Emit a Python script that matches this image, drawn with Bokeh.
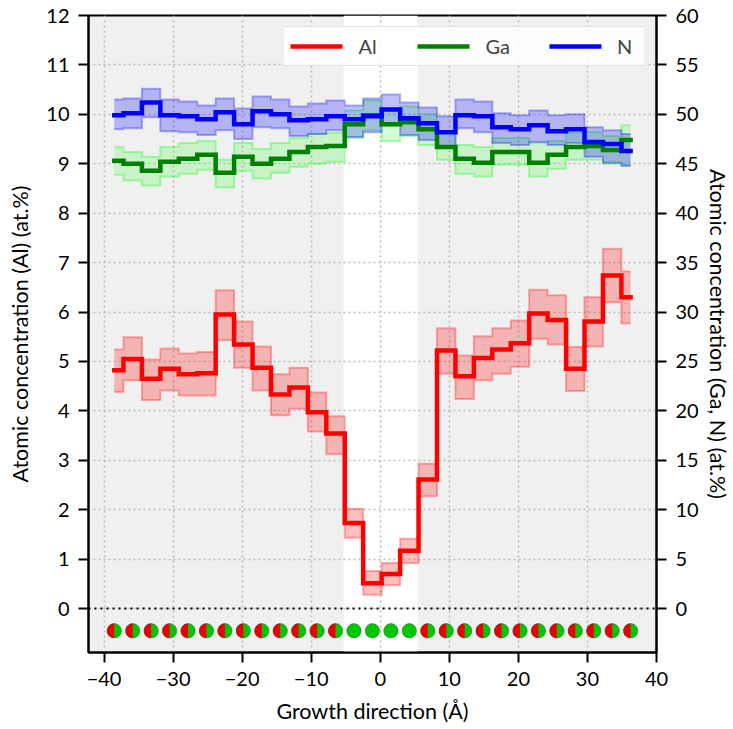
import numpy as np
from bokeh.plotting import figure
from bokeh.models import (Range1d, LinearAxis, FixedTicker, Span, BoxAnnotation,
                          Legend, LegendItem)
from bokeh.embed import file_html
from bokeh.resources import INLINE

# ---------------- data ----------------
position = [-38.52, -35.85, -33.18, -30.51, -27.84, -25.17, -22.50, -19.83, -17.16, -14.49,
            -11.82, -9.15, -6.48, -3.81, -1.14, 1.54, 4.21, 6.88, 9.55, 12.22,
            14.89, 17.56, 20.23, 22.90, 25.57, 28.24, 30.91, 33.58, 36.25]

al = [4.82, 5.05, 4.65, 4.85, 4.74, 4.76, 5.95, 5.34, 4.87, 4.33,
      4.47, 3.97, 3.54, 1.73, 0.51, 0.70, 1.17, 2.61, 5.22, 4.70,
      5.07, 5.24, 5.37, 5.97, 5.84, 4.85, 5.81, 6.74, 6.30]
al_hi = [5.24, 5.49, 5.04, 5.26, 5.16, 5.19, 6.44, 5.81, 5.30, 4.74,
         4.87, 4.37, 3.89, 2.02, 0.76, 0.92, 1.41, 2.93, 5.67, 5.12,
         5.51, 5.67, 5.83, 6.45, 6.34, 5.29, 6.30, 7.28, 6.82]
al_lo = [4.38, 4.62, 4.22, 4.41, 4.31, 4.31, 5.43, 4.87, 4.41, 3.91,
         4.04, 3.58, 3.12, 1.43, 0.28, 0.47, 0.92, 2.27, 4.75, 4.24,
         4.62, 4.75, 4.89, 5.46, 5.34, 4.40, 5.30, 6.20, 5.77]

ga = [45.3, 45.0, 44.3, 45.2, 45.5, 45.9, 44.1, 45.7, 45.0, 45.5,
      46.2, 46.7, 46.8, 49.0, 49.9, 49.0, 49.2, 48.5, 46.7, 45.5,
      45.1, 46.2, 46.2, 45.1, 45.9, 46.7, 46.8, 46.4, 47.4]
ga_hi = [46.7, 46.2, 45.7, 46.7, 47.1, 47.3, 45.4, 47.1, 46.5, 47.1,
         47.6, 48.0, 48.1, 50.4, 51.4, 50.5, 50.8, 50.0, 48.1, 46.9,
         46.7, 47.6, 47.6, 47.1, 47.3, 48.1, 48.2, 47.8, 48.9]
ga_lo = [43.9, 43.3, 42.8, 43.7, 44.0, 44.4, 42.6, 44.3, 43.5, 44.1,
         44.7, 45.0, 45.2, 47.6, 48.4, 47.3, 47.8, 46.9, 45.4, 44.0,
         43.7, 44.9, 44.9, 43.7, 44.5, 45.4, 45.4, 45.0, 44.8]

n = [49.9, 50.1, 51.2, 49.9, 49.8, 49.5, 50.2, 49.0, 50.3, 50.0,
     49.4, 49.5, 49.8, 49.5, 49.8, 50.5, 49.6, 49.1, 48.2, 49.9,
     49.8, 48.7, 48.5, 48.9, 48.3, 48.5, 47.2, 47.0, 46.3]
n_hi = [51.5, 51.6, 52.6, 51.5, 51.3, 50.9, 51.6, 50.6, 51.8, 51.5,
        50.8, 51.1, 51.4, 50.9, 51.6, 52.0, 51.2, 50.7, 49.8, 51.5,
        51.3, 50.1, 49.9, 50.4, 49.9, 50.0, 48.7, 48.4, 48.0]
n_lo = [48.5, 48.6, 49.7, 48.3, 48.2, 47.9, 48.4, 47.5, 48.7, 48.6,
        47.8, 48.0, 48.4, 47.7, 48.2, 48.9, 47.9, 47.4, 46.7, 48.6,
        48.2, 47.1, 46.9, 47.2, 46.9, 47.1, 45.7, 45.1, 44.8]

# layer type for the markers row
site = ["AlGaN"] * 13 + ["GaN"] * 4 + ["AlGaN"] * 12

# interface region (unshaded)
region_left, region_right = -5.3, 5.4

x_ticks = [-40, -30, -20, -10, 0, 10, 20, 30, 40]
y_ticks = [0, 1, 2, 3, 4, 5, 6, 7, 8, 9, 10, 11, 12]
y2_ticks = [0, 5, 10, 15, 20, 25, 30, 35, 40, 45, 50, 55, 60]

FONT = "Lato"
FS = "20px"
FS_LABEL = "21.5px"

# ---------------- figure ----------------
p = figure(width=733, height=729, x_range=Range1d(-42.25, 40.0),
           y_range=Range1d(-0.89, 12.0), output_backend="svg",
           toolbar_location=None, min_border_left=88, min_border_right=75,
           min_border_top=15, min_border_bottom=77)
p.extra_y_ranges = {"right": Range1d(-0.89 * 5, 60.0)}

p.background_fill_color = "#f0f0f0"
p.border_fill_color = "white"
p.outline_line_color = "black"
p.outline_line_width = 2

white_band = BoxAnnotation(left=region_left, right=region_right, fill_color="white",
                           fill_alpha=1.0, line_color=None, level="image")
p.add_layout(white_band)

# grid
p.xgrid.ticker = FixedTicker(ticks=x_ticks)
p.ygrid.ticker = FixedTicker(ticks=y_ticks)
for g in (p.xgrid, p.ygrid):
    g.grid_line_color = "#bdbdbd"
    g.grid_line_dash = "2 3"
    g.grid_line_width = 1.6

# axes
def style_axis(ax):
    ax.axis_line_width = 2
    ax.axis_line_color = "black"
    ax.major_tick_line_width = 2
    ax.major_tick_out = 10
    ax.major_tick_in = 0
    ax.minor_tick_line_color = None
    ax.major_label_text_font = FONT
    ax.major_label_text_font_size = FS
    ax.major_label_text_color = "black"
    ax.axis_label_text_font = FONT
    ax.axis_label_text_font_size = FS_LABEL
    ax.axis_label_text_font_style = "normal"
    ax.axis_label_text_color = "black"
    ax.major_label_standoff = 9

xa = p.xaxis[0]
style_axis(xa)
xa.ticker = FixedTicker(ticks=x_ticks)
xa.major_label_overrides = {t: (("\u2212" + str(abs(t))) if t < 0 else str(t)) for t in x_ticks}
xa.axis_label = "Growth direction (\u00c5)"
xa.axis_label_standoff = 9

ya = p.yaxis[0]
style_axis(ya)
ya.ticker = FixedTicker(ticks=y_ticks)
ya.axis_label = "Atomic concentration (Al) (at.%)"
ya.axis_label_standoff = 10

ya2 = LinearAxis(y_range_name="right")
style_axis(ya2)
ya2.ticker = FixedTicker(ticks=y2_ticks)
ya2.axis_label = "Atomic concentration (Ga, N) (at.%)"
ya2.axis_label_standoff = 3
ya2.major_label_standoff = 9
p.add_layout(ya2, "right")

# zero line
p.add_layout(Span(location=0, dimension="width", line_color="black",
                  line_dash="2 4", line_width=2))

# uncertainty bands
def band(lo, hi, color, fa, la, yr="default"):
    p.varea_step(x=position, y1=lo, y2=hi, step_mode="center", fill_color=color,
                 fill_alpha=fa, y_range_name=yr)
    for edge in (lo, hi):
        p.step(x=position, y=edge, mode="center", line_color=color, line_alpha=la,
               line_width=2, line_join="miter", y_range_name=yr)

band(al_lo, al_hi, "red", 0.25, 0.3)
band(ga_lo, ga_hi, "#00ff00", 0.16, 0.32, "right")
band(n_lo, n_hi, "blue", 0.25, 0.3, "right")

r_al = p.step(x=position, y=al, mode="center", line_color="red", line_width=4.5,
              line_join="miter", line_cap="square")
r_ga = p.step(x=position, y=ga, mode="center", line_color="green", line_width=4.5,
              line_join="miter", line_cap="square", y_range_name="right")
r_n = p.step(x=position, y=n, mode="center", line_color="blue", line_width=4.5,
             line_join="miter", line_cap="square", y_range_name="right")

# marker row
mark_y = [-0.45] * len(position)
mixed_x = [x for x, s in zip(position, site) if s == "AlGaN"]
p.scatter(x=position, y=mark_y, size=14.5, fill_color="#00c800", line_color=None)
p.wedge(x=mixed_x, y=[-0.45] * len(mixed_x), radius=7.25, radius_units="screen",
        start_angle=np.pi / 2, end_angle=3 * np.pi / 2, fill_color="#ee0000",
        line_color=None)
p.scatter(x=position, y=mark_y, size=14.5, fill_color=None, line_color="#303030",
          line_alpha=0.45, line_width=0.8)

legend = Legend(items=[LegendItem(label="Al", renderers=[r_al]),
                       LegendItem(label="Ga", renderers=[r_ga]),
                       LegendItem(label="N", renderers=[r_n])],
                orientation="horizontal", location="top_right", margin=11,
                padding=7, spacing=39, glyph_width=52, glyph_height=22,
                label_standoff=16, label_text_font=FONT, label_text_font_size=FS,
                background_fill_color="white", background_fill_alpha=0.85,
                border_line_color="#cccccc", border_line_width=1.5)
p.add_layout(legend)

open("out.html", "w").write(file_html(p, INLINE))
